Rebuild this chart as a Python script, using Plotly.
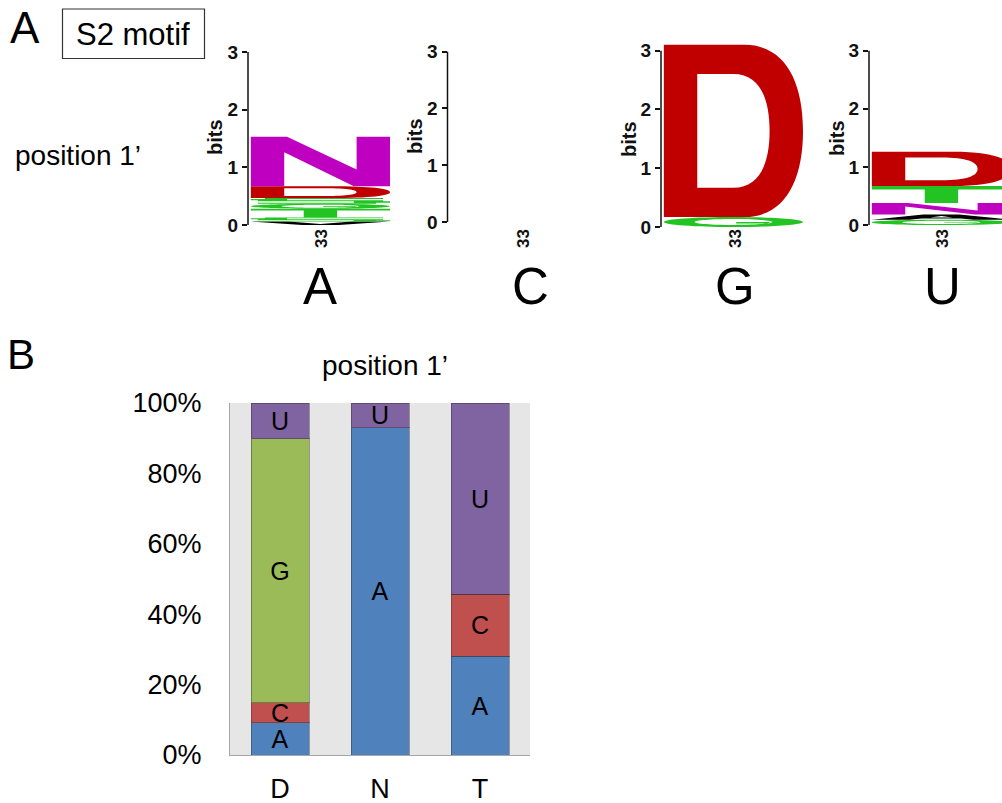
import plotly.graph_objects as go

# ---------------- data ----------------
# Panel A: sequence logos (letters stacked bottom -> top, heights in bits)
logo_titles = ["A", "C", "G", "U"]
logoA_letters = ["V", "S", "T", "G", "S", "D", "N"]
logoA_bits = [0.06, 0.07, 0.15, 0.09, 0.10, 0.20, 0.86]
logoC_letters = []
logoC_bits = []
logoG_letters = ["G", "D"]
logoG_bits = [0.17, 2.93]
logoU_letters = ["G", "A", "N", "T", "D"]
logoU_bits = [0.09, 0.09, 0.20, 0.29, 0.59]
logo_position_label = "33"
bits_ticks = [0, 1, 2, 3]

# Panel B: stacked percentage bars
categories = ["D", "N", "T"]
pct_A = [9.1, 93.0, 28.1]
pct_C = [5.7, 0.0, 17.6]
pct_G = [75.0, 0.0, 0.0]
pct_U = [10.2, 7.0, 54.3]
pct_ticks = [0, 20, 40, 60, 80, 100]
pct_tick_text = ["0%", "20%", "40%", "60%", "80%", "100%"]

# ---------------- styling ----------------
W, H = 1002, 803
FONT = "Liberation Sans, Arial, Helvetica, sans-serif"
NARROW = "Liberation Sans Narrow, Arial Narrow, Liberation Sans, sans-serif"
GREEN = "#22c322"
letter_colors = {"N": "#c000c0", "D": "#c00000", "S": GREEN, "T": GREEN,
                 "G": GREEN, "V": "#000000", "A": "#000000"}
bar_colors = {"A": "#4f81bd", "C": "#c0504d", "G": "#9bbb59", "U": "#8064a2"}


def px(x):
    return x / W


def py(y):
    return 1 - y / H


# glyph outlines in a unit box; each is a list of sub-paths of tokens
GLYPHS = {
    "N": [[("M", 0, 0), ("L", 0, 1), ("L", .26, 1), ("L", .76, .34), ("L", .76, 1),
           ("L", 1, 1), ("L", 1, 0), ("L", .74, 0), ("L", .24, .69), ("L", .24, 0)]],
    "D": [[("M", 0, 0), ("L", 0, 1), ("L", .58, 1), ("C", .86, 1, 1, .8, 1, .5),
           ("C", 1, .2, .86, 0, .58, 0)],
          [("M", .24, .17), ("L", .24, .83), ("L", .5, .83), ("C", .68, .83, .76, .7, .76, .5),
           ("C", .76, .3, .68, .17, .5, .17)]],
    "T": [[("M", 0, 1), ("L", 1, 1), ("L", 1, .8), ("L", .62, .8), ("L", .62, 0),
           ("L", .38, 0), ("L", .38, .8), ("L", 0, .8)]],
    "V": [[("M", 0, 1), ("L", .27, 1), ("L", .5, .3), ("L", .73, 1), ("L", 1, 1),
           ("L", .63, 0), ("L", .37, 0)]],
    "A": [[("M", 0, 0), ("L", .37, 1), ("L", .63, 1), ("L", 1, 0), ("L", .73, 0),
           ("L", .64, .25), ("L", .36, .25), ("L", .27, 0)],
          [("M", .42, .42), ("L", .5, .72), ("L", .58, .42)]],
    "G": [[("M", .5, 0), ("C", .224, 0, 0, .224, 0, .5), ("C", 0, .776, .224, 1, .5, 1),
           ("C", .776, 1, 1, .776, 1, .5), ("C", 1, .224, .776, 0, .5, 0)],
          [("M", .5, .2), ("C", .345, .2, .22, .334, .22, .5), ("C", .22, .666, .345, .8, .5, .8),
           ("C", .655, .8, .78, .666, .78, .5), ("C", .78, .334, .655, .2, .5, .2)],
          [("M", .52, .36), ("L", .76, .36), ("L", .76, .5), ("L", .52, .5)]],
    "S": [[("M", .1, .82), ("L", .95, .82), ("L", .95, 1), ("L", .1, 1)],
          [("M", 0, .59), ("L", .26, .59), ("L", .26, .82), ("L", 0, .82)],
          [("M", .05, .41), ("L", .95, .41), ("L", .95, .59), ("L", .05, .59)],
          [("M", .74, .18), ("L", 1, .18), ("L", 1, .41), ("L", .74, .41)],
          [("M", .05, 0), ("L", .9, 0), ("L", .9, .18), ("L", .05, .18)]],
}


def glyph_path(letter, x0, x1, y0, y1):
    def mx(u):
        return x0 + u * (x1 - x0)

    def my(v):
        return y0 + v * (y1 - y0)

    parts = []
    for sub in GLYPHS[letter]:
        for tok in sub:
            cmd, vals = tok[0], tok[1:]
            pts = []
            for i in range(0, len(vals), 2):
                pts.append(f"{mx(vals[i]):.5f},{my(vals[i + 1]):.5f}")
            parts.append(cmd + " " + " ".join(pts))
        parts.append("Z")
    return " ".join(parts)


fig = go.Figure()
shapes = []
annotations = []

# ---------------- Panel A: logos ----------------
logos = [(logoA_letters, logoA_bits), (logoC_letters, logoC_bits),
         (logoG_letters, logoG_bits), (logoU_letters, logoU_bits)]
# pixel geometry of each logo: axis x, y of 0 bits, y of 3 bits
geom = [(248, 225, 52), (447.5, 222, 51.7), (661, 227, 50.7), (869, 225, 50.7)]
bits_label_xy = [(215, 137), (415, 136), (629, 139), (837, 138)]
pos_label_x = [321, 523, 735, 942]
big_letter_x = [320, 530, 735, 942]
STACK_W = 142
YLO, YHI = -0.1, 3.2

for k, ((letters, bits), (ax_x, y0px, y3px)) in enumerate(zip(logos, geom), start=1):
    s = (y0px - y3px) / 3.0
    bot_px = y0px - YLO * s
    top_px = y3px - (YHI - 3) * s
    right_px = min(ax_x + STACK_W, W)
    xr = (right_px - ax_x) / STACK_W
    # empty trace so that the subplot (and its axis) is always drawn
    fig.add_trace(go.Scatter(x=[], y=[], xaxis=f"x{k}", yaxis=f"y{k}",
                             showlegend=False, hoverinfo="skip"))
    fig.layout[f"xaxis{k}"] = dict(domain=[px(ax_x), px(right_px)], range=[0, xr],
                                   visible=False, anchor=f"y{k}", fixedrange=True,
                                   automargin=False)
    fig.layout[f"yaxis{k}"] = dict(domain=[py(bot_px), py(top_px)], range=[YLO, YHI],
                                   autorange=False, automargin=False,
                                   anchor=f"x{k}", tickvals=bits_ticks, ticks="outside",
                                   ticklen=5, tickwidth=1.5, tickcolor="#111",
                                   showgrid=False, zeroline=False, showline=False,
                                   tickfont=dict(family=FONT, size=19, color="#111",
                                                 weight="bold"))
    # y axis line from 0 to 3 bits
    shapes.append(dict(type="line", xref="paper", yref="paper", x0=px(ax_x), x1=px(ax_x),
                       y0=py(y0px), y1=py(y3px), line=dict(color="#111", width=1.5)))
    base = 0.0
    for let, h in zip(letters, bits):
        shapes.append(dict(type="path", xref=f"x{k}", yref=f"y{k}",
                           path=glyph_path(let, 0.02, 1.0, base, base + h),
                           fillcolor=letter_colors[let], line=dict(width=0),
                           layer="above"))
        base += h
    bx, by = bits_label_xy[k - 1]
    annotations.append(dict(text="bits", x=px(bx), y=py(by), xref="paper", yref="paper",
                            showarrow=False, textangle=-90, xanchor="center",
                            yanchor="middle",
                            font=dict(family=FONT, size=20, color="#111", weight="bold")))
    annotations.append(dict(text=logo_position_label, x=px(pos_label_x[k - 1]), y=py(239),
                            xref="paper", yref="paper", showarrow=False, textangle=-90,
                            xanchor="center", yanchor="middle",
                            font=dict(family=FONT, size=17, color="#111", weight="bold")))
    annotations.append(dict(text=logo_titles[k - 1], x=px(big_letter_x[k - 1]), y=py(286),
                            xref="paper", yref="paper", showarrow=False,
                            xanchor="center", yanchor="middle",
                            font=dict(family=NARROW, size=51, color="black")))

# panel A labels
annotations.append(dict(text="A", x=px(25), y=py(27), xref="paper", yref="paper",
                        showarrow=False, xanchor="center", yanchor="middle",
                        font=dict(family=FONT, size=44, color="black")))
annotations.append(dict(text="S2 motif", x=px(133), y=py(35), xref="paper", yref="paper",
                        showarrow=False, xanchor="center", yanchor="middle",
                        font=dict(family=FONT, size=31, color="black")))
shapes.append(dict(type="rect", xref="paper", yref="paper", x0=px(62.5), x1=px(204.5),
                   y0=py(58.5), y1=py(9), line=dict(color="#333", width=1.2)))
annotations.append(dict(text="position 1’", x=px(78), y=py(155), xref="paper",
                        yref="paper", showarrow=False, xanchor="center", yanchor="middle",
                        font=dict(family=FONT, size=28, color="black")))

# ---------------- Panel B: stacked bars ----------------
series = [("A", pct_A), ("C", pct_C), ("G", pct_G), ("U", pct_U)]
for name, vals in series:
    fig.add_trace(go.Bar(
        x=categories, y=vals, name=name, width=0.58,
        marker=dict(color=bar_colors[name], line=dict(color="rgba(50,50,50,0.45)", width=1)),
        text=[name if v > 0 else "" for v in vals],
        textposition="inside", insidetextanchor="middle", textangle=0,
        constraintext="none",
        textfont=dict(family=FONT, size=25, color="black"),
        xaxis="x5", yaxis="y5", hoverinfo="skip", showlegend=False,
    ))

fig.layout["xaxis5"] = dict(domain=[px(230), px(530)], range=[-0.5, 2.5], type="category",
                            anchor="y5", showline=True, linecolor="#a6a6a6", linewidth=1,
                            ticks="", showgrid=False, ticklabelstandoff=10, automargin=False,
                            tickfont=dict(family=FONT, size=27, color="black"))
fig.layout["yaxis5"] = dict(domain=[py(755), py(403)], range=[0, 100], anchor="x5",
                            autorange=False, automargin=False,
                            tickvals=pct_ticks, ticktext=pct_tick_text, showline=True,
                            linecolor="#a6a6a6", linewidth=1, ticks="", showgrid=False,
                            zeroline=False, ticklabelstandoff=22,
                            tickfont=dict(family=FONT, size=27, color="black"))
shapes.append(dict(type="rect", xref="x5 domain", yref="y5 domain", x0=0, x1=1, y0=0, y1=1,
                   fillcolor="#e6e6e6", line=dict(width=0), layer="below"))

annotations.append(dict(text="B", x=px(21), y=py(354), xref="paper", yref="paper",
                        showarrow=False, xanchor="center", yanchor="middle",
                        font=dict(family=FONT, size=42, color="black")))
annotations.append(dict(text="position 1’", x=px(385), y=py(365), xref="paper",
                        yref="paper", showarrow=False, xanchor="center", yanchor="middle",
                        font=dict(family=FONT, size=28, color="black")))

fig.update_layout(
    width=W, height=H, margin=dict(l=0, r=0, t=0, b=0, pad=0, autoexpand=False),
    paper_bgcolor="white", plot_bgcolor="white",
    barmode="stack", showlegend=False,
    uniformtext=dict(minsize=25, mode="show"),
    shapes=shapes, annotations=annotations,
    font=dict(family=FONT, color="black"),
)

fig.write_html("out.html")
